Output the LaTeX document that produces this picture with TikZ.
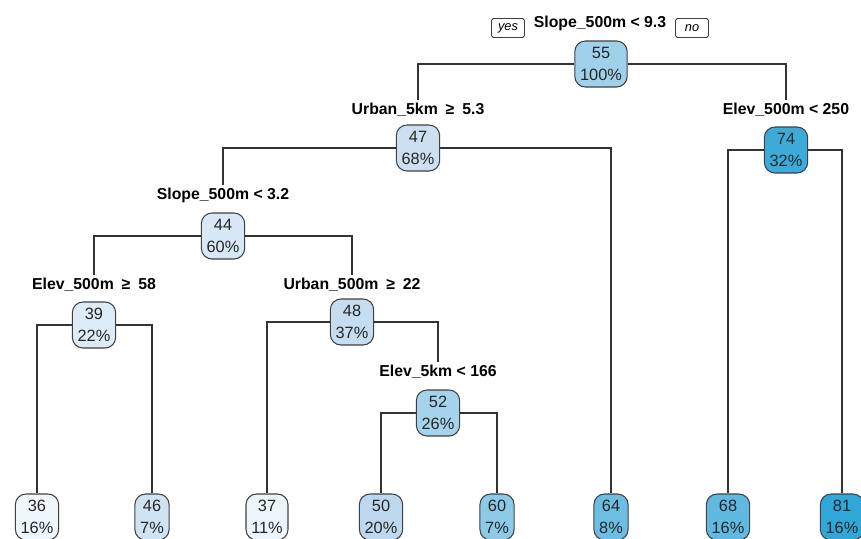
\documentclass[tikz,border=0pt]{standalone}
\usepackage{fontspec}
\setmainfont{Liberation Sans}
\usepackage{xcolor}
\usepackage{tikz}
\definecolor{b36}{HTML}{EFF6FC}
\definecolor{b37}{HTML}{EDF5FB}
\definecolor{b39}{HTML}{DDEBF7}
\definecolor{b44}{HTML}{D8E8F6}
\definecolor{b46}{HTML}{D0E3F3}
\definecolor{b47}{HTML}{CCE0F2}
\definecolor{b48}{HTML}{C6DDF0}
\definecolor{b50}{HTML}{BDD8EE}
\definecolor{b52}{HTML}{A6D3EC}
\definecolor{b55}{HTML}{A0D1EB}
\definecolor{b60}{HTML}{8DCAE7}
\definecolor{b64}{HTML}{6CBEE2}
\definecolor{b68}{HTML}{60B9E0}
\definecolor{b74}{HTML}{3DABDA}
\definecolor{b81}{HTML}{2FA7D8}

\begin{document}
\begin{tikzpicture}[x=0.02cm,y=-0.02cm,
  nd/.style={draw=black!75,line width=0.6pt,rounded corners=6pt,
             minimum height=0.92cm,inner xsep=3pt,inner ysep=1pt,align=center,
             font=\fontsize{9.3}{12.5}\selectfont,text=black!85},
  splitlab/.style={font=\fontsize{9}{11}\selectfont\bfseries,inner sep=1pt,
                   text height=7pt,text depth=2pt},
  tag/.style={draw=black!75,line width=0.5pt,rounded corners=1pt,
              minimum width=0.66cm,minimum height=0.38cm,inner sep=1pt,
              font=\fontsize{7.3}{8}\selectfont\itshape},
  link/.style={draw=black!80,line width=0.6pt}
]
  \useasboundingbox (0,0) rectangle (861,538);

  % split labels
  \node[splitlab] (l55) at (600,23) {Slope\_500m < 9.3};
  \node[tag] (yes) at (508,28) {yes};
  \node[tag] (no) at (692,28) {no};
  \node[splitlab] (l47) at (418,110) {Urban\_5km\enspace≥\enspace5.3};
  \node[splitlab] (l74) at (786,110) {Elev\_500m < 250};
  \node[splitlab] (l44) at (223,195) {Slope\_500m < 3.2};
  \node[splitlab] (l39) at (94,285) {Elev\_500m\enspace≥\enspace58};
  \node[splitlab] (l48) at (352,285) {Urban\_500m\enspace≥\enspace22};
  \node[splitlab] (l52) at (438,372) {Elev\_5km < 166};

  % inner nodes
  \node[nd,fill=b55] (n55) at (601,64) {55\\100\%};
  \node[nd,fill=b47] (n47) at (418,148) {47\\68\%};
  \node[nd,fill=b74] (n74) at (786,150) {74\\32\%};
  \node[nd,fill=b44] (n44) at (223,236) {44\\60\%};
  \node[nd,fill=b39] (n39) at (94,325) {39\\22\%};
  \node[nd,fill=b48] (n48) at (352,322) {48\\37\%};
  \node[nd,fill=b52] (n52) at (438,413) {52\\26\%};

  % leaves
  \node[nd,fill=b36] (n36) at (37,517) {36\\16\%};
  \node[nd,fill=b46] (n46) at (152,517) {46\\7\%};
  \node[nd,fill=b37] (n37) at (267,517) {37\\11\%};
  \node[nd,fill=b50] (n50) at (381,517) {50\\20\%};
  \node[nd,fill=b60] (n60) at (497,517) {60\\7\%};
  \node[nd,fill=b64] (n64) at (611,517) {64\\8\%};
  \node[nd,fill=b68] (n68) at (728,517) {68\\16\%};
  \node[nd,fill=b81] (n81) at (842,517) {81\\16\%};

  % branches
  \draw[link] (n55.west) -| (l47.north);
  \draw[link] (n55.east) -| (l74.north);
  \draw[link] (n47.west) -| (l44.north);
  \draw[link] (n47.east) -| (n64.north);
  \draw[link] (n74.west) -| (n68.north);
  \draw[link] (n74.east) -| (n81.north);
  \draw[link] (n44.west) -| (l39.north);
  \draw[link] (n44.east) -| (l48.north);
  \draw[link] (n39.west) -| (n36.north);
  \draw[link] (n39.east) -| (n46.north);
  \draw[link] (n48.west) -| (n37.north);
  \draw[link] (n48.east) -| (l52.north);
  \draw[link] (n52.west) -| (n50.north);
  \draw[link] (n52.east) -| (n60.north);
\end{tikzpicture}
\end{document}
